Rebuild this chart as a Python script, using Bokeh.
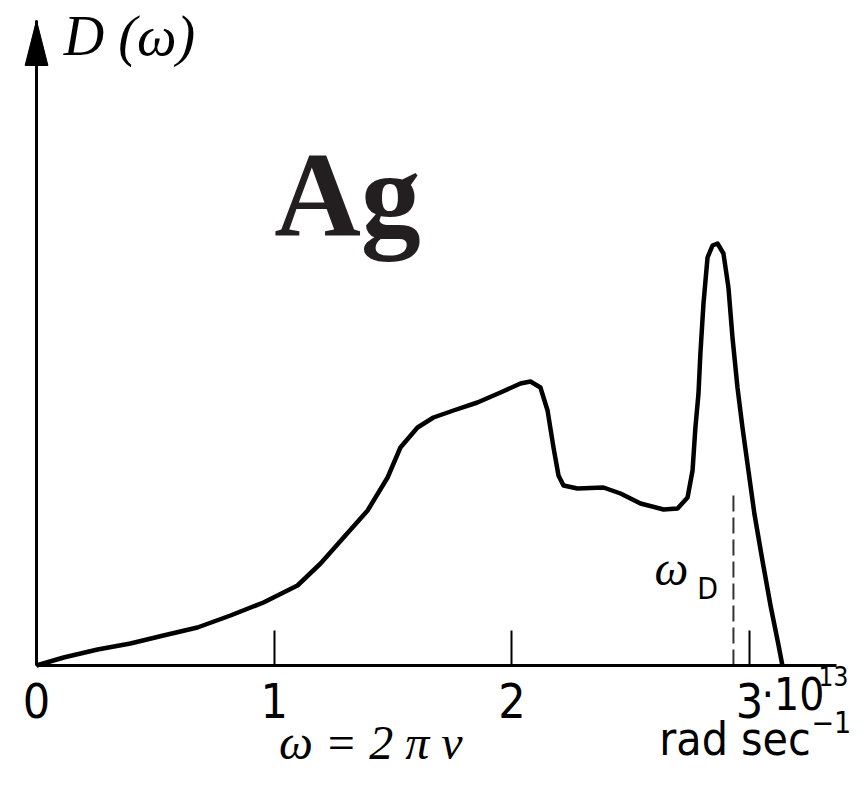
from bokeh.plotting import figure
from bokeh.models import Range1d, FixedTicker, Label, ColumnDataSource
from bokeh.embed import file_html
from bokeh.resources import INLINE

# Phonon density of states D(omega) of silver, omega in units of 1e13 rad/s
omega = [0.0, 0.114, 0.257, 0.395, 0.534, 0.677, 0.816, 0.955, 1.098, 1.195,
         1.292, 1.393, 1.477, 1.531, 1.603, 1.670, 1.754, 1.855, 1.952, 2.036,
         2.078, 2.120, 2.150, 2.175, 2.196, 2.217, 2.276, 2.385, 2.457, 2.541,
         2.638, 2.697, 2.739, 2.760, 2.772, 2.785, 2.793, 2.806, 2.823, 2.844,
         2.865, 2.890, 2.911, 2.928, 2.949, 2.970, 2.995, 3.020, 3.054, 3.088,
         3.122, 3.138]
D = [0.0, 0.08, 0.16, 0.22, 0.30, 0.38, 0.50, 0.63, 0.80, 1.02,
     1.28, 1.55, 1.88, 2.18, 2.38, 2.48, 2.55, 2.63, 2.73, 2.82,
     2.84, 2.78, 2.55, 2.18, 1.90, 1.80, 1.77, 1.78, 1.72, 1.62,
     1.56, 1.57, 1.68, 1.95, 2.38, 2.72, 3.12, 3.62, 4.08, 4.20,
     4.22, 4.12, 3.78, 3.28, 2.78, 2.38, 1.95, 1.52, 1.05, 0.60,
     0.20, 0.0]

omega_D = 2.932
omega_D_height = 1.75
x_ticks = [0, 1, 2, 3]
x_tick_labels = {0: "0", 1: "1", 2: "2", 3: "3"}
X_AXIS_END = 3.366
Y_AXIS_END = 6.45

SANS = "'Liberation Sans Narrow', 'DejaVu Sans Condensed', 'Roboto Condensed', 'Noto Sans', sans-serif"
SERIF = "'Liberation Serif', serif"

p = figure(width=850, height=771, output_backend="svg", toolbar_location=None,
           x_range=Range1d(-0.1515, 3.4245), y_range=Range1d(-1.06, 6.65),
           min_border_left=0, min_border_right=0, min_border_top=0,
           min_border_bottom=0)
p.outline_line_color = None
p.grid.visible = False
p.background_fill_color = "white"
p.border_fill_color = "white"

# x axis
xa = p.xaxis[0]
xa.fixed_location = 0
xa.bounds = (0, X_AXIS_END)
xa.ticker = FixedTicker(ticks=x_ticks)
xa.major_label_overrides = x_tick_labels
xa.major_tick_in = 35
xa.major_tick_out = 0
xa.minor_tick_line_color = None
xa.axis_line_width = 3
xa.axis_line_color = "black"
xa.major_tick_line_width = 2
xa.major_tick_line_color = "black"
xa.major_label_text_font = SANS
xa.major_label_text_font_size = "48px"
xa.major_label_text_color = "black"
xa.major_label_standoff = 17

# y axis (no ticks)
ya = p.yaxis[0]
ya.fixed_location = 0
ya.bounds = (0, Y_AXIS_END)
ya.ticker = FixedTicker(ticks=[])
ya.major_tick_line_color = None
ya.minor_tick_line_color = None
ya.major_label_text_font_size = "0px"
ya.axis_line_width = 3
ya.axis_line_color = "black"

# arrow head at top of y axis
head_len = 0.45
head_half = 0.048
p.patch([-head_half, 0, head_half],
        [Y_AXIS_END - head_len, Y_AXIS_END, Y_AXIS_END - head_len],
        color="black", line_width=1)

# curve
src = ColumnDataSource(dict(x=omega, y=D))
p.line("x", "y", source=src, line_width=4.5, color="black", line_join="round")

# Debye frequency dashed line
p.segment(x0=[omega_D], y0=[0], x1=[omega_D], y1=[omega_D_height],
          line_width=2, line_color="#333333", line_dash="16 6")

def lab(x, y, text, font=SANS, size="46px", style="normal",
        color="black", align="left", baseline="alphabetic"):
    p.add_layout(Label(x=x, y=y, text=text, text_font=font, text_font_size=size,
                       text_font_style=style, text_color=color, text_align=align,
                       text_baseline=baseline))

lab(0.115, 6.30, "D (ω)", font=SERIF, size="56px", style="italic")
lab(1.0, 4.71, "Ag", font=SERIF, size="120px", style="bold", color="#231f20")
lab(2.60, 0.97, "ω", font=SERIF, size="48px", style="italic")
lab(2.78, 0.77, "D", size="30px")
lab(3.05, -0.29, "·10", size="44px")
lab(3.29, -0.10, "13", size="26px")
lab(1.02, -0.77, "ω = 2 π ν", font=SERIF, size="48px", style="italic")
lab(2.62, -0.73, "rad sec", size="46px")
lab(3.26, -0.56, "−1", size="30px")

open("out.html", "w").write(file_html(p, INLINE))
